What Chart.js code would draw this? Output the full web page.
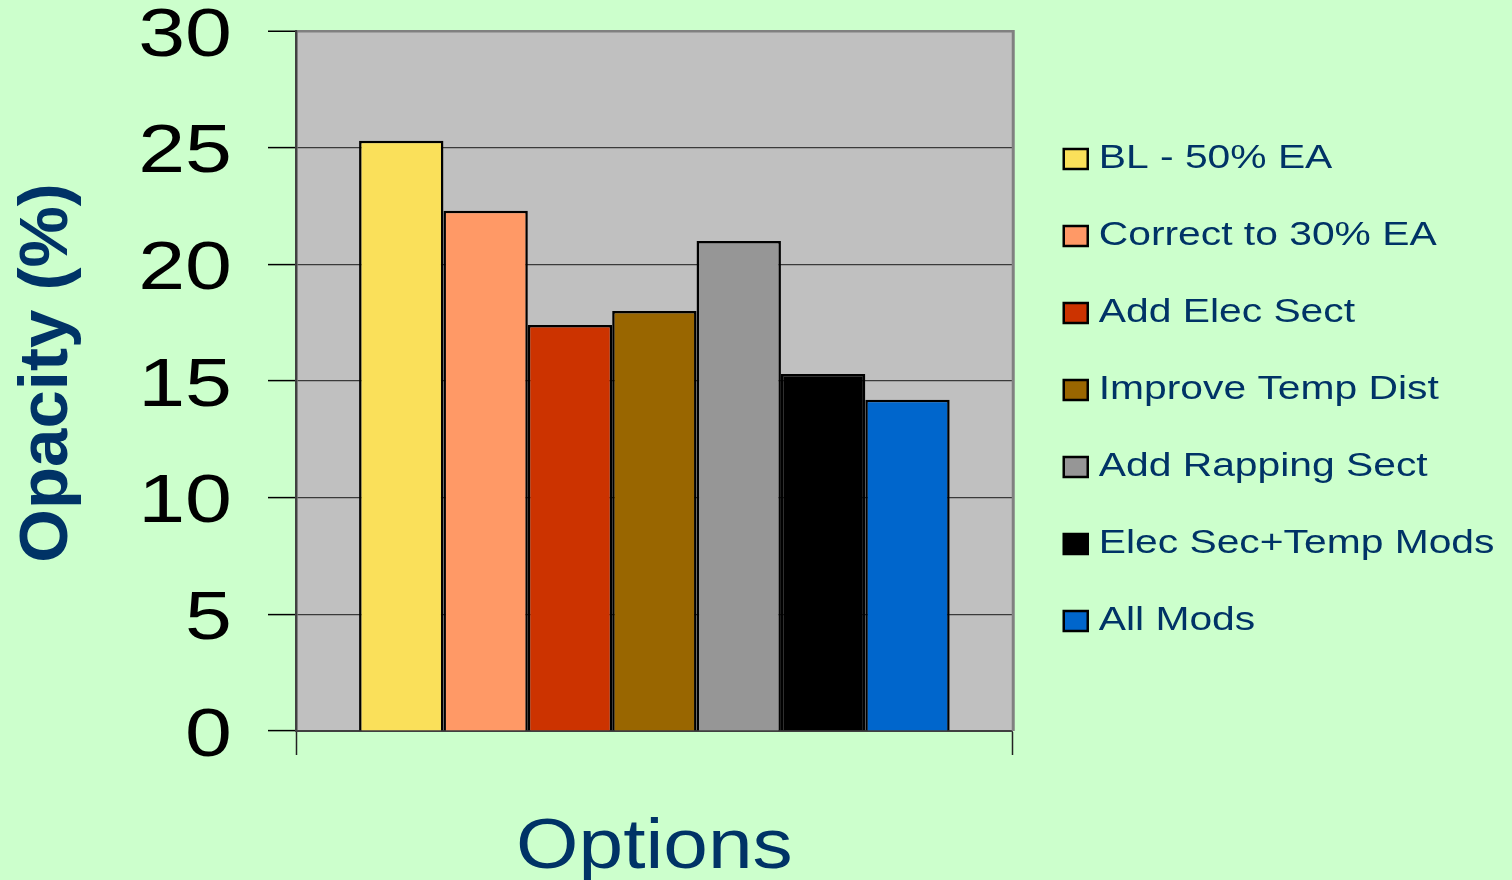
<!DOCTYPE html>
<html>
<head>
<meta charset="utf-8">
<title>Opacity by option</title>
<script src="https://cdn.jsdelivr.net/npm/chart.js@4.4.1/dist/chart.umd.min.js"></script>
<style>
  html, body { margin: 0; padding: 0; background: #CCFFCC; }
  canvas { display: block; }
</style>
</head>
<body>
<canvas id="chart" width="1512" height="880"></canvas>
<script>
// ---- data ----
const categories = [''];
const seriesNames = [
  'BL - 50% EA',
  'Correct to 30% EA',
  'Add Elec Sect',
  'Improve Temp Dist',
  'Add Rapping Sect',
  'Elec Sec+Temp Mods',
  'All Mods'
];
const opacityValues = [25.3, 22.3, 17.4, 18.0, 21.0, 15.3, 14.2];
const seriesColors = ['#FAE05A', '#FF9966', '#CC3300', '#996600', '#969696', '#000000', '#0066CC'];
const yTickValues = [0, 5, 10, 15, 20, 25, 30];
const xAxisTitle = 'Options';
const yAxisTitle = 'Opacity (%)';

const FONT = "'Liberation Sans', Arial, sans-serif";
const NAVY = '#003366';

// grey plot area and its light frame
const plotFrame = {
  id: 'plotFrame',
  beforeDraw(chart) {
    const { ctx, chartArea: a } = chart;
    ctx.save();
    ctx.fillStyle = '#CCFFCC';
    ctx.fillRect(0, 0, chart.width, chart.height);
    ctx.fillStyle = '#C0C0C0';
    ctx.fillRect(a.left, a.top, a.right - a.left, a.bottom - a.top);
    ctx.restore();
  },
  beforeDatasetsDraw(chart) {
    const { ctx, chartArea: a } = chart;
    ctx.save();
    ctx.strokeStyle = '#808080';
    ctx.lineWidth = 3;
    ctx.beginPath();
    ctx.moveTo(a.right + 0.5, a.top - 1);
    ctx.lineTo(a.right + 0.5, a.bottom);
    ctx.stroke();
    ctx.restore();
  }
};

// wide lettering: text of selected parts is drawn horizontally stretched
const wideText = {
  id: 'wideText',
  beforeDraw(chart) {
    if (chart.$wideReady) return;
    chart.$wideReady = true;
    const ctx = chart.ctx;
    const nativeFill = ctx.fillText.bind(ctx);
    ctx.$sx = 1; ctx.$dx = 0;
    ctx.fillText = function (text, x, y, maxWidth) {
      const k = ctx.$sx, dx = ctx.$dx;
      if (k === 1 && dx === 0) {
        return maxWidth === undefined ? nativeFill(text, x, y) : nativeFill(text, x, y, maxWidth);
      }
      ctx.save();
      ctx.translate(x + dx, y);
      ctx.scale(k, 1);
      if (maxWidth === undefined) nativeFill(text, 0, 0);
      else nativeFill(text, 0, 0, maxWidth / k);
      ctx.restore();
    };
    const wrap = (obj, name, k, dx, shiftX, shiftY, noClip) => {
      const orig = obj[name];
      obj[name] = function (...args) {
        ctx.save();
        ctx.translate(shiftX, shiftY);
        ctx.$sx = k; ctx.$dx = dx;
        if (noClip) ctx.clip = function () {};
        try { return orig.apply(this, args); }
        finally {
          if (noClip) delete ctx.clip;
          ctx.$sx = 1; ctx.$dx = 0;
          ctx.restore();
        }
      };
    };
    wrap(chart.scales.y, 'drawLabels', 1.24, -36, 0, 0, false);
    wrap(chart.scales.y, 'drawTitle', 1, 0, 10, -8, false);
    wrap(chart.scales.x, 'drawTitle', 1.13, 0, 0, 0, false);
    wrap(chart.legend, 'draw', 1.2, -6, 8, 0, true);
  }
};

const datasets = seriesNames.map((name, i) => ({
  label: name,
  data: [opacityValues[i]],
  backgroundColor: seriesColors[i],
  borderColor: '#000000',
  borderWidth: 2.5,
  borderSkipped: 'start',
  barPercentage: 1,
  categoryPercentage: 0.824
}));

Chart.defaults.font.family = FONT;

new Chart(document.getElementById('chart'), {
  type: 'bar',
  data: { labels: categories, datasets },
  plugins: [plotFrame, wideText],
  options: {
    responsive: false,
    animation: false,
    devicePixelRatio: 1,
    layout: { padding: { top: 31, right: 75.5, bottom: 0, left: 0 } },
    plugins: {
      tooltip: { enabled: false },
      legend: {
        position: 'right',
        align: 'start',
        maxWidth: 700,
        title: { display: true, text: '', font: { size: 10, lineHeight: 1 }, padding: { top: 58, bottom: 0 } },
        labels: {
          color: NAVY,
          font: { family: FONT, size: 34 },
          boxWidth: 24,
          boxHeight: 20,
          padding: 43
        }
      }
    },
    scales: {
      x: {
        type: 'category',
        offset: true,
        grid: {
          offset: true,
          drawOnChartArea: false,
          drawTicks: true,
          tickLength: 24,
          tickColor: '#222222',
          tickWidth: 1.5
        },
        border: { display: true, color: '#404040', width: 2 },
        ticks: { display: false },
        title: {
          display: true,
          text: xAxisTitle,
          color: NAVY,
          font: { family: FONT, size: 71, lineHeight: 0.85 },
          padding: { top: 63.65, bottom: 1 }
        }
      },
      y: {
        min: 0,
        max: 30,
        afterBuildTicks(scale) {
          scale.ticks = yTickValues.map(v => ({ value: v }));
        },
        afterFit(scale) { scale.width = 296; },
        grid: {
          color: c => (c.tick && c.tick.value === 30 ? '#808080' : '#3A3A3A'),
          lineWidth: c => (c.tick && c.tick.value === 30 ? 2.5 : 1.2),
          tickLength: 28,
          tickColor: '#000000',
          tickWidth: 1.5
        },
        border: { display: true, color: '#404040', width: 2.5 },
        ticks: {
          color: '#000000',
          padding: 0,
          labelOffset: 6,
          font: { family: FONT, size: 68, lineHeight: 0.1 }
        },
        title: {
          display: true,
          text: yAxisTitle,
          color: NAVY,
          font: { family: FONT, size: 69, weight: 'bold', lineHeight: 1 },
          padding: { top: 3, bottom: 0 }
        }
      }
    }
  }
});
</script>
</body>
</html>
